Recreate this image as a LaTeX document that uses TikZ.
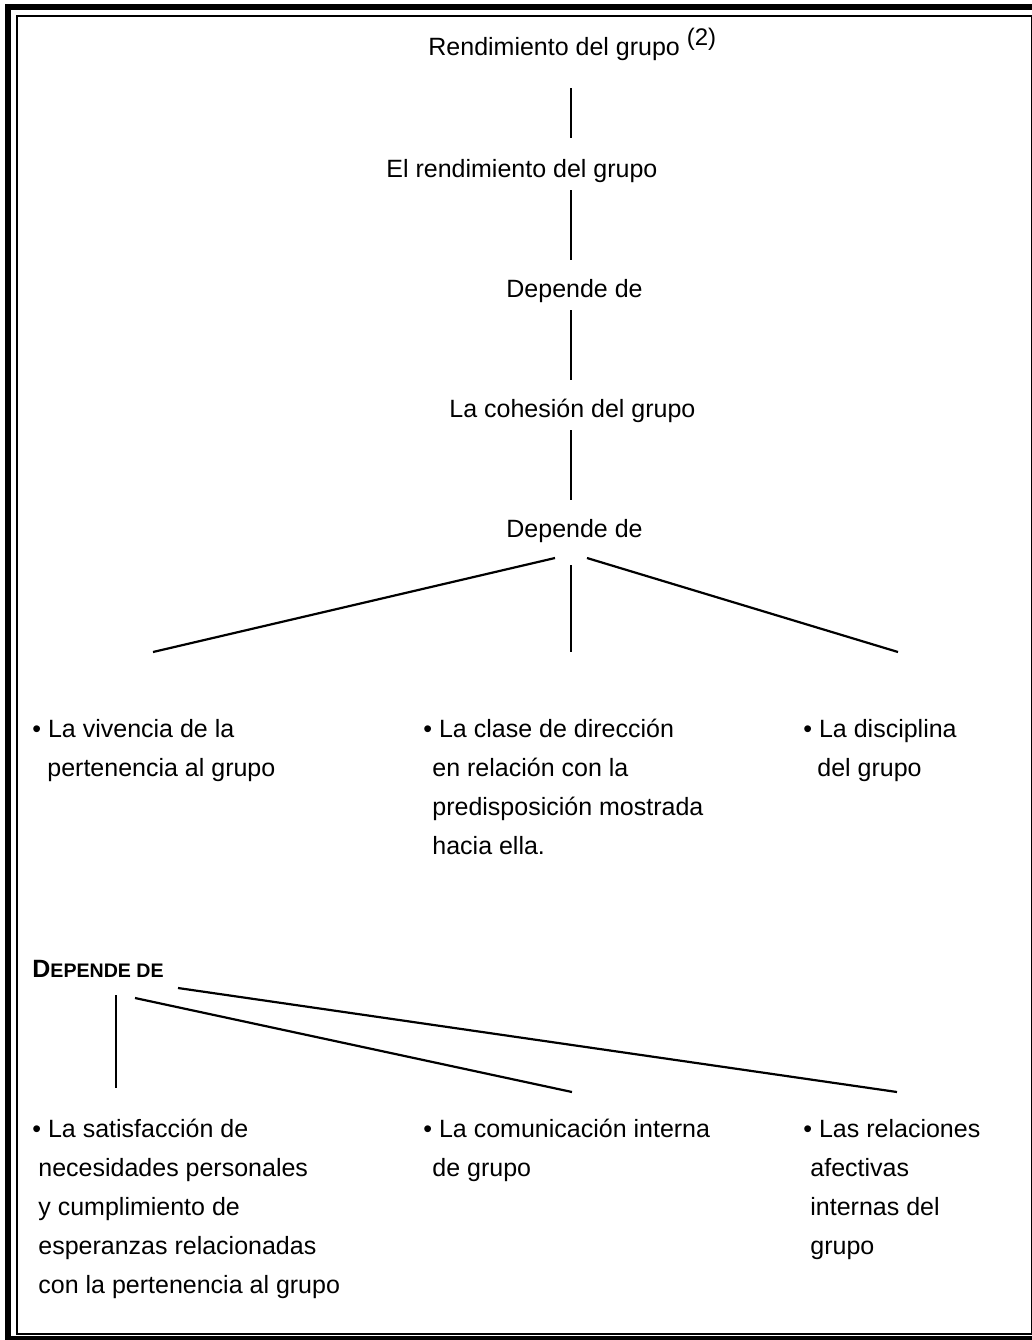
\documentclass[tikz,border=0pt]{standalone}
\usepackage{fontspec}
\setmainfont{Liberation Sans}
\begin{document}
\begin{tikzpicture}[x=0.5pt,y=-0.5pt,
  txt/.style={inner sep=0pt, anchor=base west, font=\fontsize{12.5}{15}\selectfont},
  ln/.style={line width=1.1pt}]
\useasboundingbox (0,0) rectangle (1032,1340);
% frame
\draw[line width=3pt] (8,7) rectangle (1041,1339);
\draw[line width=1pt] (17,15.5) rectangle (1031.5,1334);
% top chain
\node[txt] (title) at (428,55) {Rendimiento del grupo \raisebox{5pt}{\fontsize{12}{12}\selectfont (2)}};
\node[txt] (rend) at (386,177) {El rendimiento del grupo};
\node[txt] (dep1) at (506,297) {Depende de};
\node[txt] (coh) at (449,417) {La cohesión del grupo};
\node[txt] (dep2) at (506,537) {Depende de};
\coordinate (a1) at (571,88);  \coordinate (a2) at (571,138);
\coordinate (b1) at (571,190); \coordinate (b2) at (571,260);
\coordinate (c1) at (571,310); \coordinate (c2) at (571,380);
\coordinate (d1) at (571,430); \coordinate (d2) at (571,500);
\draw[ln] (a1) -- (a2);
\draw[ln] (b1) -- (b2);
\draw[ln] (c1) -- (c2);
\draw[ln] (d1) -- (d2);
% branches
\coordinate (e1) at (555,558); \coordinate (e2) at (153,652);
\coordinate (f1) at (571,565); \coordinate (f2) at (571,652);
\coordinate (g1) at (587,558); \coordinate (g2) at (898,652);
\draw[ln] (e1) -- (e2);
\draw[ln] (f1) -- (f2);
\draw[ln] (g1) -- (g2);
% upper bullets
\node[txt] (v1) at (32,737) {\textbullet\ La vivencia de la};
\node[txt] (v2) at (47,776) {pertenencia al grupo};
\node[txt] (m1) at (423,737) {\textbullet\ La clase de dirección};
\node[txt] (m2) at (432,776) {en relación con la};
\node[txt] (m3) at (432,815) {predisposición mostrada};
\node[txt] (m4) at (432,854) {hacia ella.};
\node[txt] (r1) at (803,737) {\textbullet\ La disciplina};
\node[txt] (r2) at (817,776) {del grupo};
% lower section
\node[inner sep=0pt, anchor=base west] (dep3) at (32,977) {\bfseries\fontsize{12.5}{14}\selectfont D\fontsize{9.8}{11}\selectfont EPENDE DE};
\coordinate (h1) at (116,995); \coordinate (h2) at (116,1088);
\coordinate (i1) at (135,998); \coordinate (i2) at (572,1092);
\coordinate (j1) at (178,988); \coordinate (j2) at (897,1092);
\draw[ln] (h1) -- (h2);
\draw[ln] (i1) -- (i2);
\draw[ln] (j1) -- (j2);
\node[txt] (s1) at (32,1137) {\textbullet\ La satisfacción de};
\node[txt] (s2) at (38,1176) {necesidades personales};
\node[txt] (s3) at (38,1215) {y cumplimiento de};
\node[txt] (s4) at (38,1254) {esperanzas relacionadas};
\node[txt] (s5) at (38,1293) {con la pertenencia al grupo};
\node[txt] (c1n) at (423,1137) {\textbullet\ La comunicación interna};
\node[txt] (c2n) at (432,1176) {de grupo};
\node[txt] (t1) at (803,1137) {\textbullet\ Las relaciones};
\node[txt] (t2) at (810,1176) {afectivas};
\node[txt] (t3) at (810,1215) {internas del};
\node[txt] (t4) at (810,1254) {grupo};
\end{tikzpicture}
\end{document}
